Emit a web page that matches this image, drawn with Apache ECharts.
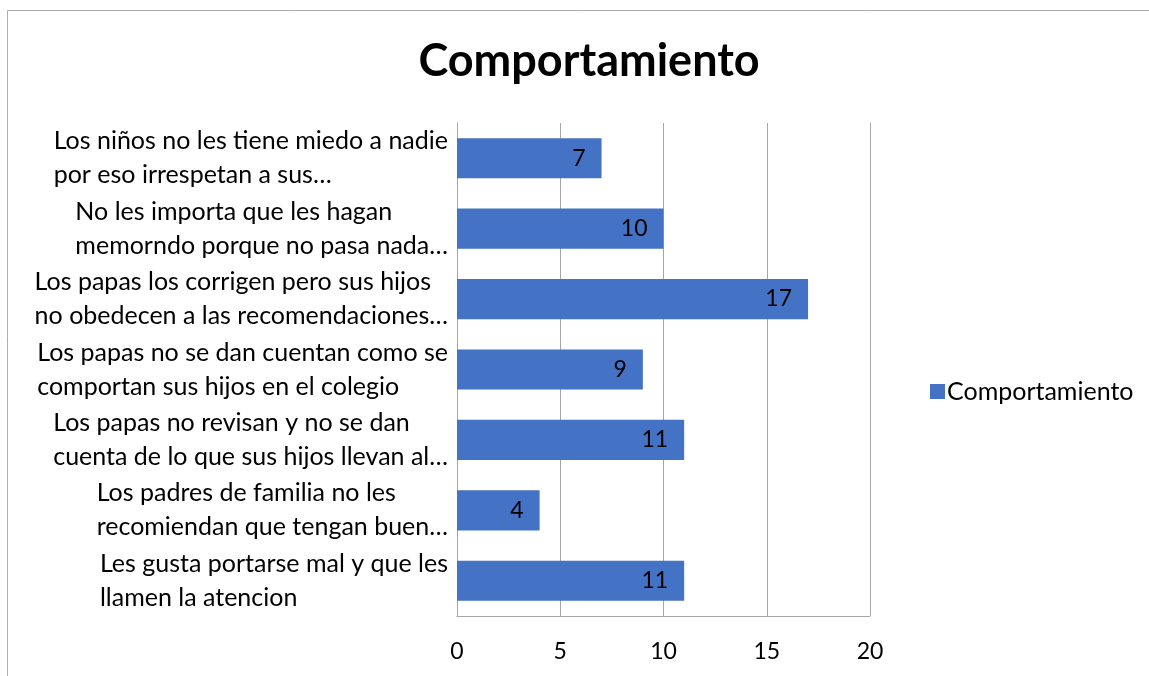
<!DOCTYPE html>
<html><head><meta charset="utf-8">
<script src="https://cdn.jsdelivr.net/npm/echarts@6/dist/echarts.min.js"></script>
<style>html,body{margin:0;padding:0;background:#fff}#c{width:1149px;height:676px}</style>
</head><body><div id="c"></div>
<script>
// categories listed bottom-to-top (ECharts category y axis starts at the bottom)
const categories = [
  "Les gusta portarse mal y que les\nllamen la atencion",
  "Los padres de familia no les\nrecomiendan que tengan buen…",
  "Los papas no revisan y no se dan\ncuenta de lo que sus hijos llevan al…",
  "Los papas no se dan cuentan como se\ncomportan sus hijos en el colegio",
  "Los papas los corrigen pero sus hijos\nno obedecen a las recomendaciones…",
  "No les importa que les hagan\nmemorndo porque no pasa nada…",
  "Los niños no les tiene miedo a nadie\npor eso irrespetan a sus…"
];
const values = [11, 4, 11, 9, 17, 10, 7];
const seriesName = "Comportamiento";
const titleText = "Comportamiento";
const xTicks = [0, 5, 10, 15, 20];

const font = "Lato, 'Open Sans', sans-serif";
const chart = echarts.init(document.getElementById('c'), null, {renderer: 'canvas'});
chart.setOption({
  backgroundColor: '#fff',
  animation: false,
  title: {
    text: titleText, left: 584, top: 34, textAlign: 'center',
    textStyle: {fontFamily: font, fontWeight: 'bold', fontSize: 45, color: '#000'}
  },
  legend: {
    data: [seriesName], left: 925, top: 374, itemWidth: 15, itemHeight: 15, itemGap: 6,
    icon: 'rect',
    textStyle: {fontFamily: font, fontSize: 25, color: '#000', padding: [0,0,0,-3]}
  },
  grid: {left: 457, right: 279, top: 123, bottom: 60, containLabel: false},
  xAxis: {
    type: 'value', min: xTicks[0], max: xTicks[xTicks.length-1], interval: 5,
    axisLine: {show: true, lineStyle: {color: '#A6A6A6'}},
    axisTick: {show: false},
    axisLabel: {fontFamily: font, fontSize: 23, color: '#000', margin: 24},
    splitLine: {show: true, lineStyle: {color: '#A6A6A6', width: 1}}
  },
  yAxis: {
    type: 'category', data: categories,
    axisLine: {show: true, lineStyle: {color: '#A6A6A6'}},
    axisTick: {show: false},
    axisLabel: {
      margin: 9, align: 'right', lineHeight: 34,
      formatter: function (v) { return v.split('\n').map(l => '{a|' + l + '}').join('\n'); },
      rich: {a: {fontFamily: font, fontSize: 25, color: '#000', align: 'left', lineHeight: 34}}
    }
  },
  series: [{
    name: seriesName, type: 'bar', data: values, barWidth: '57%',
    itemStyle: {color: '#4472C4'},
    label: {show: true, position: 'insideRight', distance: 16, fontFamily: font, fontSize: 23, color: '#000'}
  }],
  graphic: [{
    type: 'rect', shape: {x: 7.5, y: 10.5, width: 1300, height: 800},
    style: {fill: 'none', stroke: '#ADADAD', lineWidth: 1}, silent: true
  }]
});
</script></body></html>
